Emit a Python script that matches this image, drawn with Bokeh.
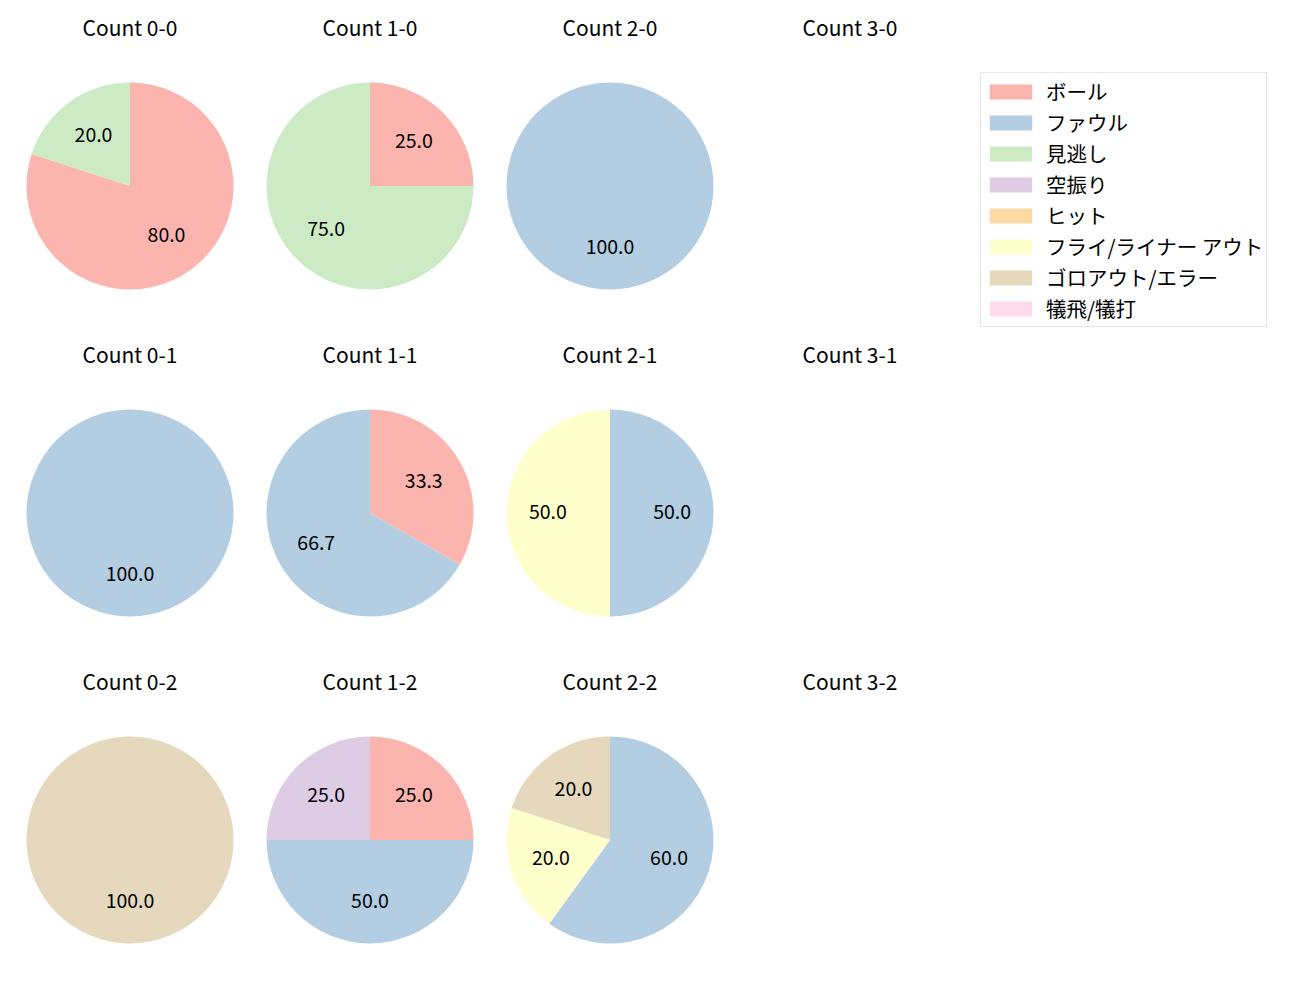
import math
from bokeh.plotting import figure
from bokeh.models import ColumnDataSource, Legend, LegendItem, Range1d
from bokeh.core.properties import value
from bokeh.embed import file_html
from bokeh.resources import INLINE

# ---- data ----
categories = ["ボール", "ファウル", "見逃し", "空振り", "ヒット",
              "フライ/ライナー アウト", "ゴロアウト/エラー", "犠飛/犠打"]
colors = ["#fbb4ae", "#b3cde3", "#ccebc5", "#decbe4", "#fed9a6",
          "#ffffcc", "#e5d8bd", "#fddaec"]
balls = [0, 1, 2, 3]
strikes = [0, 1, 2]

# percentage of outcomes per count, in category order
count_0_0 = [80.0, 0, 20.0, 0, 0, 0, 0, 0]
count_1_0 = [25.0, 0, 75.0, 0, 0, 0, 0, 0]
count_2_0 = [0, 100.0, 0, 0, 0, 0, 0, 0]
count_3_0 = [0, 0, 0, 0, 0, 0, 0, 0]
count_0_1 = [0, 100.0, 0, 0, 0, 0, 0, 0]
count_1_1 = [33.3, 66.7, 0, 0, 0, 0, 0, 0]
count_2_1 = [0, 50.0, 0, 0, 0, 50.0, 0, 0]
count_3_1 = [0, 0, 0, 0, 0, 0, 0, 0]
count_0_2 = [0, 0, 0, 0, 0, 0, 100.0, 0]
count_1_2 = [25.0, 50.0, 0, 25.0, 0, 0, 0, 0]
count_2_2 = [0, 60.0, 0, 0, 0, 20.0, 20.0, 0]
count_3_2 = [0, 0, 0, 0, 0, 0, 0, 0]

shares = {
    (0, 0): count_0_0, (1, 0): count_1_0, (2, 0): count_2_0, (3, 0): count_3_0,
    (0, 1): count_0_1, (1, 1): count_1_1, (2, 1): count_2_1, (3, 1): count_3_1,
    (0, 2): count_0_2, (1, 2): count_1_2, (2, 2): count_2_2, (3, 2): count_3_2,
}

# ---- layout ----
W, H = 1300, 1000
CX0, DX = 129.5, 240.0
CY0, DY = 185.5, 327.0
R = 103.5
TITLE_OFF = 159.0
FONT = "Noto Sans CJK JP"

p = figure(width=W, height=H, x_range=Range1d(0, W), y_range=Range1d(0, H),
           min_border=0, toolbar_location=None, output_backend="svg",
           x_axis_type=None, y_axis_type=None)
p.outline_line_color = None
p.background_fill_color = "white"

wedge_data = {i: dict(x=[], y=[], s=[], e=[]) for i in range(len(categories))}
full_data = {i: dict(x=[], y=[]) for i in range(len(categories))}
lab = dict(x=[], y=[], t=[])
tit = dict(x=[], y=[], t=[])

for b in balls:
    for s in strikes:
        cx = CX0 + DX * b
        cy = H - (CY0 + DY * s)
        tit["x"].append(cx)
        tit["y"].append(cy + TITLE_OFF)
        tit["t"].append(f"Count {b}-{s}")
        vals = shares[(b, s)]
        total = sum(vals)
        if total <= 0:
            continue
        cum = 0.0
        for i, v in enumerate(vals):
            if v <= 0:
                continue
            frac0 = cum / total
            frac1 = (cum + v) / total
            if v >= total:
                full_data[i]["x"].append(cx)
                full_data[i]["y"].append(cy)
            else:
                wedge_data[i]["x"].append(cx)
                wedge_data[i]["y"].append(cy)
                wedge_data[i]["s"].append(math.pi / 2 - frac0 * 2 * math.pi)
                wedge_data[i]["e"].append(math.pi / 2 - frac1 * 2 * math.pi)
            mid = math.pi / 2 - (frac0 + frac1) / 2 * 2 * math.pi
            lab["x"].append(cx + 0.6 * R * math.cos(mid))
            lab["y"].append(cy + 0.6 * R * math.sin(mid))
            lab["t"].append(f"{v / total * 100:.1f}")
            cum += v

for i, c in enumerate(colors):
    src = ColumnDataSource(wedge_data[i])
    p.wedge(x="x", y="y", radius=R, start_angle="s", end_angle="e",
            direction="clock", source=src, fill_color=c, line_color=None)
    if full_data[i]["x"]:
        p.circle(x="x", y="y", radius=R, source=ColumnDataSource(full_data[i]),
                 fill_color=c, line_color=None)

# legend swatches (no visible marks in the plot area: NaN coordinates)
legend_renderers = []
for i, c in enumerate(colors):
    r = p.quad(left=[float("nan")], right=[float("nan")],
               top=[float("nan")], bottom=[float("nan")],
               fill_color=c, line_color=None)
    legend_renderers.append(r)

p.text(x="x", y="y", text="t", source=ColumnDataSource(lab),
       text_align="center", text_baseline="middle", text_font=value(FONT),
       text_font_size="19.5px", text_color="#000000", y_offset=-1.5)
p.text(x="x", y="y", text="t", source=ColumnDataSource(tit),
       text_align="center", text_baseline="middle", text_font=value(FONT),
       text_font_size="21px", text_color="#000000")

items = [LegendItem(label=cat, renderers=[legend_renderers[i]])
         for i, cat in enumerate(categories)]
legend = Legend(items=items, location=(980, 673), orientation="vertical",
                glyph_width=53, glyph_height=19, label_height=29,
                label_standoff=9, spacing=1, padding=3, margin=0,
                label_text_font=FONT,
                label_text_font_size="20.5px", label_text_color="#000000",
                border_line_color="#cccccc", border_line_width=1,
                background_fill_color="white", background_fill_alpha=1.0)
p.add_layout(legend)

open("out.html", "w").write(file_html(p, INLINE))
